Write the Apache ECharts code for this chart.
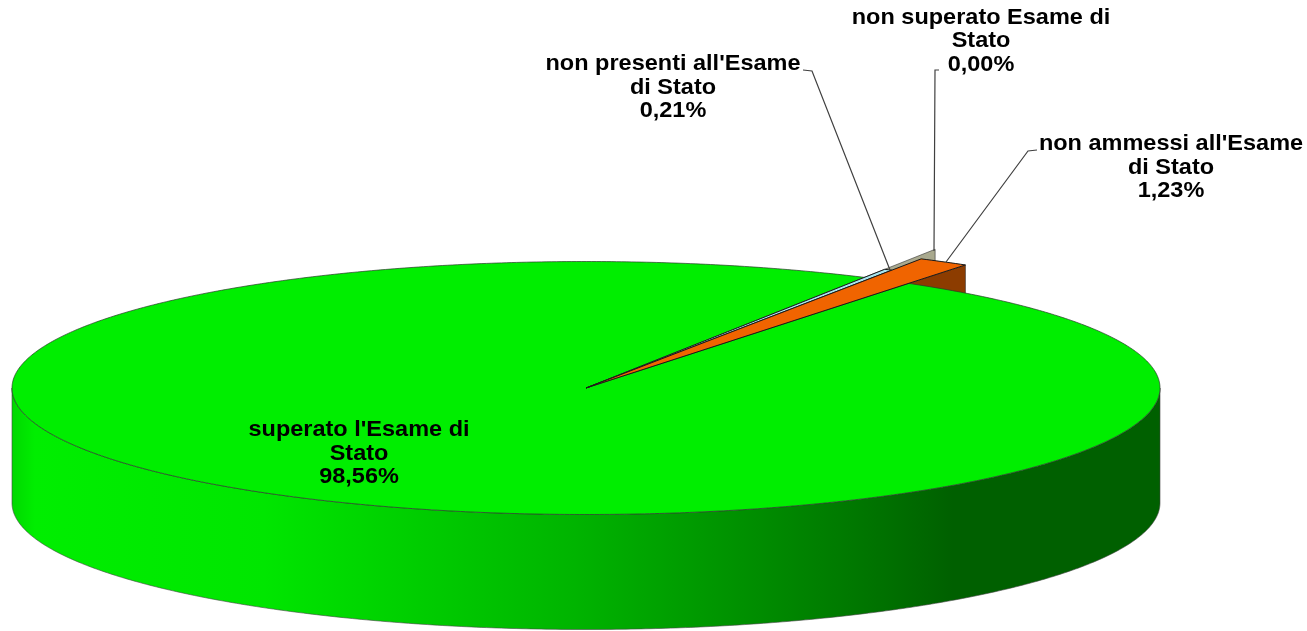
<!DOCTYPE html>
<html><head><meta charset="utf-8">
<style>html,body{margin:0;padding:0;background:#fff}#c{width:1307px;height:631px}</style>
<script src="https://cdn.jsdelivr.net/npm/echarts@6/dist/echarts.min.js"></script>
</head><body><div id="c"></div>
<script>
// data
const categories = ["superato l'Esame di\nStato", "non superato Esame di\nStato", "non presenti all'Esame\ndi Stato", "non ammessi all'Esame\ndi Stato"];
const values = [98.56, 0.00, 0.21, 1.23];
// drawing configuration
const radiusScale = [1, 1.254, 1.073, 1.176];
const topColors = ['#00ee00', '#b4b49a', '#a8e6f0', '#f06400'];
const wallColors = ['#00a000', '#a9a98e', '#7fb8c0', '#8c3c00'];
const labelPos = [[359, 454], [981, 41.5], [673, 88], [1171, 168]];
const leaders = [null, [[939, 70], [935, 70], [934, 251]], [[803, 70], [812, 71], [890, 270]], [[1037, 150], [1028, 151], [946, 262]]];
const cx = 586, cy = 388, rx = 574, ry = 126.5, depth = 115, startDeg = 34.2;

const rad = d => d * Math.PI / 180;
const pt = (deg, r, dy) => [cx + r * Math.sin(rad(deg)), cy - r * Math.cos(rad(deg)) * ry / rx + (dy || 0)];
function arc(a, b, r, dy) {
  const out = [], n = Math.max(1, Math.ceil(Math.abs(b - a) / 0.5));
  for (let i = 0; i <= n; i++) out.push(pt(a + (b - a) * i / n, r, dy));
  return out;
}
const total = values.reduce((s, v) => s + v, 0);

function renderItem(params, api) {
  const i = params.dataIndex, v = api.value(0);
  let s = startDeg;
  for (let k = 0; k < i; k++) s += values[k] / total * 360;
  const e = s + v / total * 360, r = rx * radiusScale[i], children = [];
  if (i === 0) {
    const lower = arc(90, 270, rx);
    const side = lower.concat(arc(270, 90, rx, depth));
    children.push({
      type: 'polygon', z2: 1, shape: { points: side },
      style: {
        stroke: '#444', lineWidth: 0.6,
        fill: new echarts.graphic.LinearGradient(cx - rx, 0, cx + rx, 0, [
          { offset: 0, color: '#00d800' }, { offset: 0.02, color: '#00ee00' },
          { offset: 0.22, color: '#00e600' }, { offset: 0.49, color: '#00b400' },
          { offset: 0.64, color: '#008f00' }, { offset: 0.74, color: '#007600' },
          { offset: 0.82, color: '#006000' }, { offset: 1, color: '#006000' }
        ], true)
      }
    });
    children.push({
      type: 'polygon', z2: 5,
      shape: { points: [[cx, cy]].concat(arc(s, e, r)) },
      style: { fill: topColors[i], stroke: '#2a3a2a', lineWidth: 0.7 }
    });
  } else {
    const wallAt = v === 0 ? s : (i === 3 ? e : null);
    if (wallAt !== null) {
      const o = pt(wallAt, r);
      children.push({
        type: 'polygon', z2: 3,
        shape: { points: [[cx, cy], o, [o[0], o[1] + depth], [cx, cy + depth]] },
        style: { fill: wallColors[i], stroke: '#333', lineWidth: 0.6 }
      });
    }
    if (v > 0) {
      children.push({
        type: 'polygon', z2: 6 + i,
        shape: { points: [[cx, cy]].concat(arc(s, e, r)) },
        style: { fill: topColors[i], stroke: '#1a1a1a', lineWidth: 1 }
      });
    }
    children.push({
      type: 'polyline', z2: 20, shape: { points: leaders[i] },
      style: { stroke: '#404040', lineWidth: 1.2, fill: null }
    });
  }
  children.push({
    type: 'text', z2: 30, x: labelPos[i][0], y: labelPos[i][1], scaleX: 1.093,
    style: {
      x: 0, y: 0, align: 'center', verticalAlign: 'middle',
      text: categories[i] + '\n' + v.toFixed(2).replace('.', ',') + '%',
      font: 'bold 21.5px "Liberation Sans", Arial, sans-serif', lineHeight: 23.5, fill: '#000'
    }
  });
  return { type: 'group', children };
}

const chart = echarts.init(document.getElementById('c'), null, { renderer: 'canvas' });
chart.setOption({
  animation: false,
  backgroundColor: '#fff',
  series: [{
    type: 'custom', coordinateSystem: 'none', renderItem,
    data: values.map(v => [v]), silent: true
  }]
});
</script></body></html>
